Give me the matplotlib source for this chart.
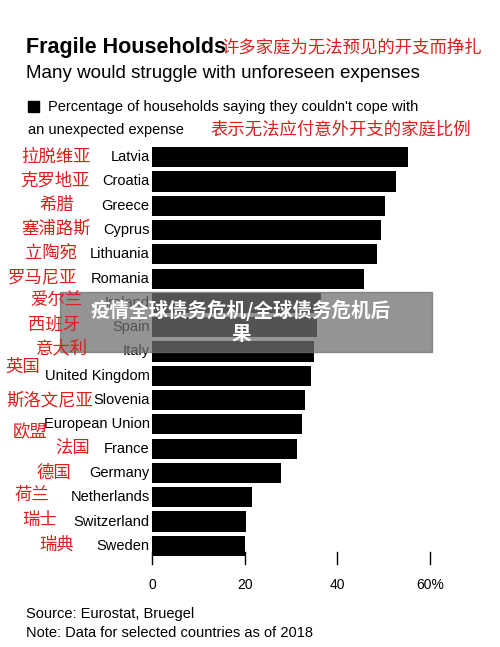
import matplotlib
matplotlib.use("Agg")
import matplotlib.pyplot as plt
from matplotlib.patches import Rectangle

plt.rcParams['font.family'] = ['Liberation Sans', 'Noto Sans CJK SC', 'DejaVu Sans']

countries = ["Latvia","Croatia","Greece","Cyprus","Lithuania","Romania","Ireland","Spain","Italy",
             "United Kingdom","Slovenia","European Union","France","Germany","Netherlands","Switzerland","Sweden"]
cn_labels = ["拉脱维亚","克罗地亚","希腊","塞浦路斯","立陶宛","罗马尼亚","爱尔兰","西班牙","意大利",
             "英国","斯洛文尼亚","欧盟","法国","德国","荷兰","瑞士","瑞典"]
values = [55.3,52.7,50.3,49.5,48.6,45.8,36.5,35.6,35.0,34.3,33.0,32.4,31.3,27.9,21.6,20.3,20.1]
ticks = [0,20,40,60]
tick_labels = ["0","20","40","60%"]
cn_x = [56,55,57,56,51,42,56,54,62,23,50,30,73,54,32,40,57]
cn_y = [157,181,205,229,253,277,300,324,348,367,400,432,448,473,495,520,545]

W,H = 500,647
fig = plt.figure(figsize=(W/100,H/100), dpi=100)
ax = fig.add_axes([152/W, 1-558/H, (430-152)/W, (558-145)/H])
n = len(countries)
ys = list(range(n))
ax.barh(ys, values, height=0.83, color='black')
ax.set_ylim(n-0.5, -0.5)
ax.set_xlim(0,60)
for s in ax.spines.values(): s.set_visible(False)
ax.set_yticks([])
ax.set_xticks([])
for t,l in zip(ticks,tick_labels):
    ax.plot([t,t],[n-0.75,n-0.25],color='black',lw=1,clip_on=False)
    ax.text(t,n+0.6,l,ha='center',va='center',fontsize=10)
for i,c in enumerate(countries):
    ax.text(-0.5,i,c,ha='right',va='center',fontsize=10.5)
for z,x,y in zip(cn_labels,cn_x,cn_y):
    fig.text(x/W, 1-y/H, z, color='#d8201c', fontsize=12.5,
             ha='center', va='center', family=['Noto Sans CJK SC'])

fig.text(26/W,1-48/H,"Fragile Households",fontsize=15.5,fontweight='bold',va='center')
fig.text(221/W,1-48/H,"许多家庭为无法预见的开支而挣扎",fontsize=12.5,color='#d8201c',va='center',family=['Noto Sans CJK SC'])
fig.text(26/W,1-74/H,"Many would struggle with unforeseen expenses",fontsize=13.5,va='center')
fig.add_artist(Rectangle((28/W,1-112/H),11/W,11/H,transform=fig.transFigure,color='black'))
fig.text(48/W,1-107/H,"Percentage of households saying they couldn't cope with",fontsize=10.5,va='center')
fig.text(28/W,1-130/H,"an unexpected expense",fontsize=10.5,va='center')
fig.text(210/W,1-130/H,"表示无法应付意外开支的家庭比例",fontsize=12.5,color='#d8201c',va='center',family=['Noto Sans CJK SC'])
fig.text(26/W,1-614/H,"Source: Eurostat, Bruegel",fontsize=10.5,va='center')
fig.text(26/W,1-633/H,"Note: Data for selected countries as of 2018",fontsize=10.5,va='center')

fig.add_artist(Rectangle((60/W,1-352/H),372/W,60/H,transform=fig.transFigure,color='#707070',alpha=0.75))
fig.text(241/W,1-310/H,"疫情全球债务危机/全球债务危机后",fontsize=14,color='white',fontweight='bold',ha='center',va='center',family=['Noto Sans CJK SC'])
fig.text(241/W,1-335/H,"果",fontsize=14,color='white',fontweight='bold',ha='center',va='center',family=['Noto Sans CJK SC'])
fig.savefig("out.png",dpi=100)
